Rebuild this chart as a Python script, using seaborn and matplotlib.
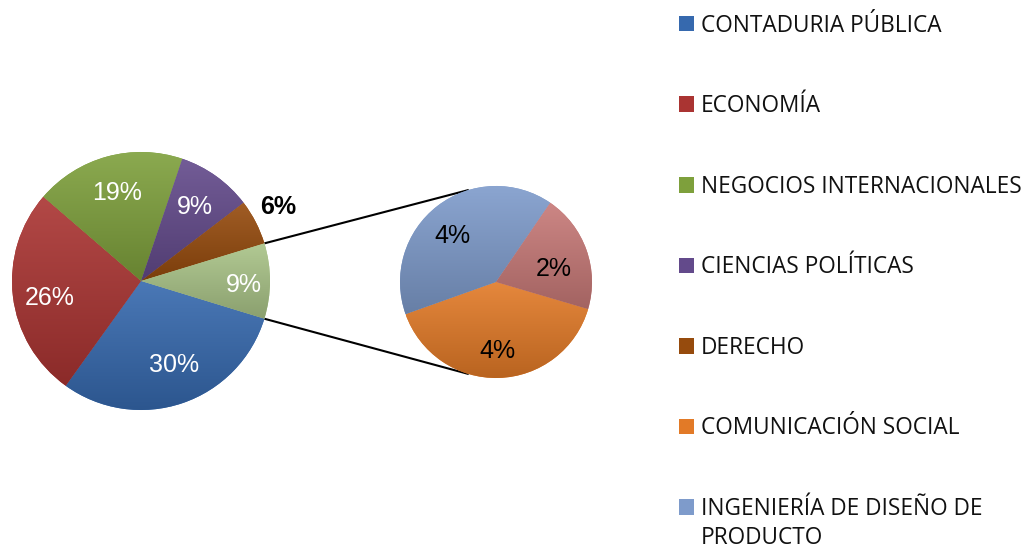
import matplotlib
matplotlib.use("Agg")
import matplotlib.pyplot as plt
import matplotlib.colors as mcolors
import numpy as np
import seaborn as sns

sns.set_theme(style="white")
plt.rcParams['font.family'] = ['Liberation Sans', 'DejaVu Sans']

# ---- data (counts estimated from the shown percentages) ----
main_labels = ["CONTADURIA PÚBLICA", "ECONOMÍA", "NEGOCIOS INTERNACIONALES",
               "CIENCIAS POLÍTICAS", "DERECHO"]
main_counts = [32, 28, 20, 10, 6]
sub_labels = ["COMUNICACIÓN SOCIAL", "INGENIERÍA DE DISEÑO DE PRODUCTO", "OTRO"]
sub_counts = [4, 4, 2]
legend_count = 7  # the last legend entry is cut off in the original

main_colors = ["#3669AE", "#AA3432", "#7EA03C", "#634A8B", "#964B0D", "#A9C387"]
sub_colors = ["#E27A27", "#7E9BCB", "#C77977"]

total = sum(main_counts) + sum(sub_counts)
other_total = sum(sub_counts)

fig = plt.figure(figsize=(10.31, 5.5), dpi=100)
ax = fig.add_axes([0, 0, 1, 1])

main_center, main_r = (141, 269), 129
sub_center, sub_r = (496, 268), 96


def fmt_for(pie_sum):
    return lambda p: f"{p * pie_sum / total:.0f}%"


w_main, _, t_main = ax.pie(
    main_counts + [other_total], colors=main_colors, startangle=-17,
    counterclock=False, center=main_center, radius=main_r,
    autopct=fmt_for(total), pctdistance=0.71,
    textprops=dict(color="white", fontsize=18),
    wedgeprops=dict(linewidth=0))

w_sub, _, t_sub = ax.pie(
    sub_counts, colors=sub_colors, startangle=-16.4, counterclock=False,
    center=sub_center, radius=sub_r, autopct=fmt_for(other_total),
    pctdistance=0.66, textprops=dict(color="black", fontsize=18),
    wedgeprops=dict(linewidth=0))


def place(text, wedge, dist, dang=0.0):
    mid = np.deg2rad((wedge.theta1 + wedge.theta2) / 2 + dang)
    cx, cy = wedge.center
    text.set_position((cx + dist * wedge.r * np.cos(mid),
                       cy + dist * wedge.r * np.sin(mid)))


# label tweaks
place(t_main[0], w_main[0], 0.70, 3)
place(t_main[1], w_main[1], 0.72, 4)
place(t_main[4], w_main[4], 1.21, 1)
t_main[4].set_color("black")
t_main[4].set_fontweight("bold")
place(t_main[5], w_main[5], 0.80, -2)
place(t_sub[2], w_sub[2], 0.62, -7)
place(t_sub[1], w_sub[1], 0.66, 6)
place(t_sub[0], w_sub[0], 0.72)


# vertical gradient shading inside each wedge
def shade(wedge, color):
    ext = wedge.get_path().get_extents()
    rgb = np.array(mcolors.to_rgb(color))
    top = rgb + (1 - rgb) * 0.10
    bot = rgb * 0.82
    n = 64
    t = np.linspace(0, 1, n)[:, None]
    grad = top[None, :] * (1 - t) + bot[None, :] * t
    img = np.repeat(grad[:, None, :], 2, axis=1)
    im = ax.imshow(img, extent=(ext.x0, ext.x1, ext.y0, ext.y1),
                   origin="upper", aspect="auto", zorder=wedge.get_zorder() + 0.1,
                   interpolation="bilinear")
    im.set_clip_path(wedge)


for w, c in zip(w_main, main_colors):
    shade(w, c)
for w, c in zip(w_sub, sub_colors):
    shade(w, c)
for t in list(t_main) + list(t_sub):
    t.set_zorder(10)

# connector lines between the "other" slice and the secondary pie
wo = w_main[-1]
conn_angle = 106.5
for a_main, a_sub in ((wo.theta2, conn_angle), (wo.theta1, -conn_angle)):
    am, asb = np.deg2rad(a_main), np.deg2rad(a_sub)
    x0 = main_center[0] + main_r * np.cos(am)
    y0 = main_center[1] + main_r * np.sin(am)
    x1 = sub_center[0] + sub_r * np.cos(asb)
    y1 = sub_center[1] + sub_r * np.sin(asb)
    ax.plot([x0, x1], [y0, y1], color="black", lw=1.5, zorder=0.5,
            solid_capstyle="butt")

ax.set_xlim(0, 1031)
ax.set_ylim(0, 550)
ax.set_aspect("equal")
ax.axis("off")

# legend (the long last label wraps onto a second line)
handles = list(w_main[:5]) + list(w_sub[:2])
labels = main_labels + sub_labels[:2]
wrap_word = "PRODUCTO"
shown = [l.replace(" " + wrap_word, "") if l.endswith(wrap_word) else l
         for l in labels[:legend_count]]
leg_font = dict(family="Open Sans", size=16.3)
leg = ax.legend(handles[:legend_count], shown,
                loc="upper left", bbox_to_anchor=(679 / 1031, 1 - 13.5 / 550),
                frameon=False, prop=leg_font, labelcolor="#111111",
                handlelength=0.68, handleheight=0.68, handletextpad=0.3,
                labelspacing=2.5, borderpad=0, borderaxespad=0)
leg.set_zorder(5)
for l, t in zip(labels[:legend_count], leg.get_texts()):
    if l.endswith(wrap_word):
        ann = ax.annotate(wrap_word, xy=(0, 0.5), xycoords=t, xytext=(0, -29),
                          textcoords="offset pixels", va="center", ha="left",
                          color="#111111", annotation_clip=False,
                          fontfamily=leg_font["family"],
                          fontsize=leg_font["size"])
        ann.set_zorder(20)

fig.savefig("out.png", dpi=100, facecolor="white")
